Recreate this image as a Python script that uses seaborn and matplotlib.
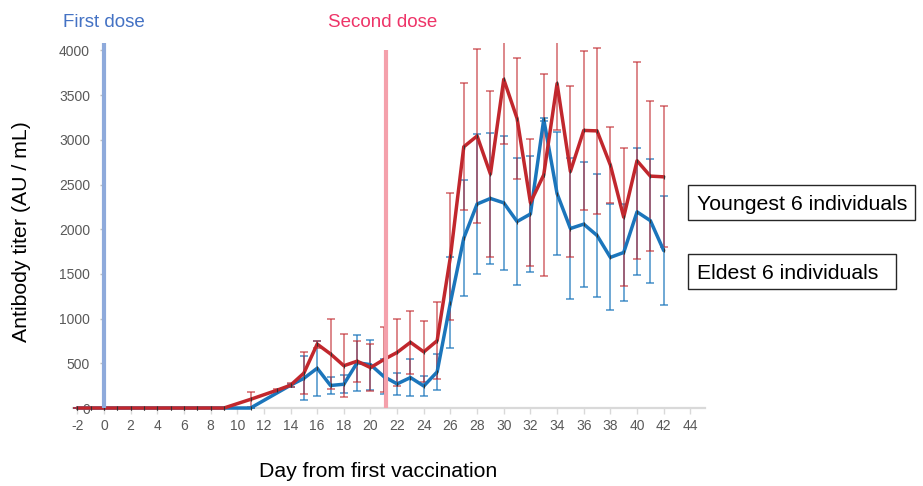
import matplotlib
matplotlib.use("Agg")
import matplotlib.pyplot as plt
import matplotlib.patches as mpatches
import seaborn as sns
import pandas as pd
import numpy as np

# ---------------- data ----------------
young_days = [-2, -1, 0, 1, 2, 3, 4, 5, 6, 7, 8, 9, 11, 13, 14, 15, 16, 17, 18, 19, 20,
              21, 22, 23, 24, 25, 26, 27, 28, 29, 30, 31, 32, 33, 34, 35, 36, 37, 38,
              39, 40, 41, 42]
young_mean = [0, 0, 0, 0, 0, 0, 0, 0, 0, 0, 0, 0, 97, 200, 255, 390, 715, 605, 473, 524,
              452, 542, 622, 735, 628, 753, 1695, 2922, 3043, 2617, 3676, 3238, 2297,
              2608, 3630, 2646, 3105, 3100, 2718, 2135, 2766, 2594, 2586]
young_sd = [0, 0, 0, 0, 0, 0, 0, 0, 0, 0, 0, 0, 85, 15, 20, 233, 40, 391, 355, 228, 261,
            365, 372, 353, 342, 428, 712, 708, 977, 925, 726, 681, 707, 1128, 521, 956,
            893, 932, 430, 774, 1102, 839, 787]

elder_days = [-2, -1, 0, 1, 2, 3, 4, 5, 6, 7, 8, 9, 11, 14, 15, 16, 17, 18, 19, 20, 21,
              22, 23, 24, 25, 26, 27, 28, 29, 30, 31, 32, 33, 34, 35, 36, 37, 38, 39,
              40, 41, 42]
elder_mean = [0, 0, 0, 0, 0, 0, 0, 0, 0, 0, 0, 0, 0, 255, 332, 445, 252, 266, 507, 485,
              352, 270, 341, 246, 404, 1180, 1900, 2282, 2344, 2295, 2086, 2170, 3229,
              2398, 2008, 2057, 1930, 1685, 1740, 2194, 2096, 1762]
elder_sd = [0, 0, 0, 0, 0, 0, 0, 0, 0, 0, 0, 0, 0, 15, 246, 310, 91, 103, 312, 278, 200,
            122, 205, 115, 202, 512, 649, 783, 737, 750, 712, 650, 20, 690, 792, 699,
            690, 593, 543, 710, 692, 613]

series_names = ["Youngest 6 individuals", "Eldest 6 individuals"]
first_dose_day = 0
second_dose_day = 21.15
x_ticks = list(range(-2, 46, 2))
y_ticks = list(range(0, 4001, 500))

# ---------------- styling ----------------
RED = "#c1272d"
BLUE = "#1b75bb"
GREY_TXT = "#595959"

sns.set_theme(style="white")
plt.rcParams["font.family"] = ["Liberation Sans", "DejaVu Sans"]

fig = plt.figure(figsize=(9.23, 4.86), dpi=100)
W, H = 923, 486
ax = fig.add_axes([73.3 / W, 1 - 410.7 / H, (705 - 73.3) / W, (410.7 - 43) / H])

df_y = pd.DataFrame({"day": young_days, "titer": young_mean, "sd": young_sd})
df_e = pd.DataFrame({"day": elder_days, "titer": elder_mean, "sd": elder_sd})

# error bars
ax.errorbar(df_e["day"], df_e["titer"], yerr=df_e["sd"], fmt="none", ecolor=BLUE,
            elinewidth=1.1, capsize=2.6, capthick=1.1, alpha=0.8, zorder=2)
ax.errorbar(df_y["day"], df_y["titer"], yerr=df_y["sd"], fmt="none", ecolor=RED,
            elinewidth=1.1, capsize=2.6, capthick=1.1, alpha=0.7, zorder=2)

# lines
sns.lineplot(data=df_e, x="day", y="titer", ax=ax, color=BLUE, linewidth=2.5,
             marker="|", markersize=3, markeredgecolor="#333333", markeredgewidth=0.8,
             zorder=3, estimator=None)
sns.lineplot(data=df_y, x="day", y="titer", ax=ax, color=RED, linewidth=2.5,
             marker="|", markersize=3, markeredgecolor="#333333", markeredgewidth=0.8,
             zorder=4, estimator=None)

# dose lines
ax.plot([first_dose_day, first_dose_day], [0, 4083], color="#8eaadb", linewidth=3,
        zorder=6, solid_capstyle="butt")
ax.plot([second_dose_day, second_dose_day], [0, 4000], color="#f4a0ab", linewidth=3,
        zorder=6, solid_capstyle="butt")

ax.set_xlim(-2.3, 45.1)
ax.set_ylim(-30, 4083)

for s in ["top", "right"]:
    ax.spines[s].set_visible(False)
ax.spines["bottom"].set_position(("data", 0))
ax.spines["bottom"].set_color("#d9d9d9")
ax.spines["bottom"].set_linewidth(1.6)
ax.spines["bottom"].set_zorder(1)
ax.spines["left"].set_position(("data", 0))
ax.spines["left"].set_visible(False)

ax.set_xticks(x_ticks)
ax.set_xticklabels([str(t) for t in x_ticks])
ax.set_yticks(y_ticks)
ax.set_yticklabels([str(t) for t in y_ticks])
ax.tick_params(axis="x", direction="out", length=4, width=1, color="#d9d9d9",
               labelsize=10, labelcolor=GREY_TXT, pad=4, bottom=True)
ax.tick_params(axis="y", direction="out", length=3, width=1, color="#bfbfbf",
               labelsize=10, labelcolor=GREY_TXT, pad=7, left=True)
ax.set_xlabel("")
ax.set_ylabel("")
ax.grid(False)

# texts
fig.text(63 / W, 1 - 27 / H, "First dose", color="#4472c4", fontsize=13.5,
         ha="left", va="baseline")
fig.text(328 / W, 1 - 27 / H, "Second dose", color="#ee3468", fontsize=13.5,
         ha="left", va="baseline")
fig.text(378 / W, 1 - 477 / H, "Day from first vaccination", color="black",
         fontsize=15.3, ha="center", va="baseline")
fig.text(22 / W, 1 - 232 / H, "Antibody titer (AU / mL)", color="black",
         fontsize=15.3, ha="center", va="center", rotation=90)

# legend-like boxes
boxes = [(688, 185, 915, 220, series_names[0]), (688, 254, 896, 289, series_names[1])]
for x0, y0, x1, y1, label in boxes:
    rect = mpatches.Rectangle((x0 / W, 1 - y1 / H), (x1 - x0) / W, (y1 - y0) / H,
                              transform=fig.transFigure, fill=False,
                              edgecolor="#262626", linewidth=1)
    fig.add_artist(rect)
    fig.text(697 / W, 1 - ((y0 + y1) / 2) / H, label, color="black", fontsize=15.3,
             ha="left", va="center_baseline")

fig.savefig("out.png", dpi=100)
